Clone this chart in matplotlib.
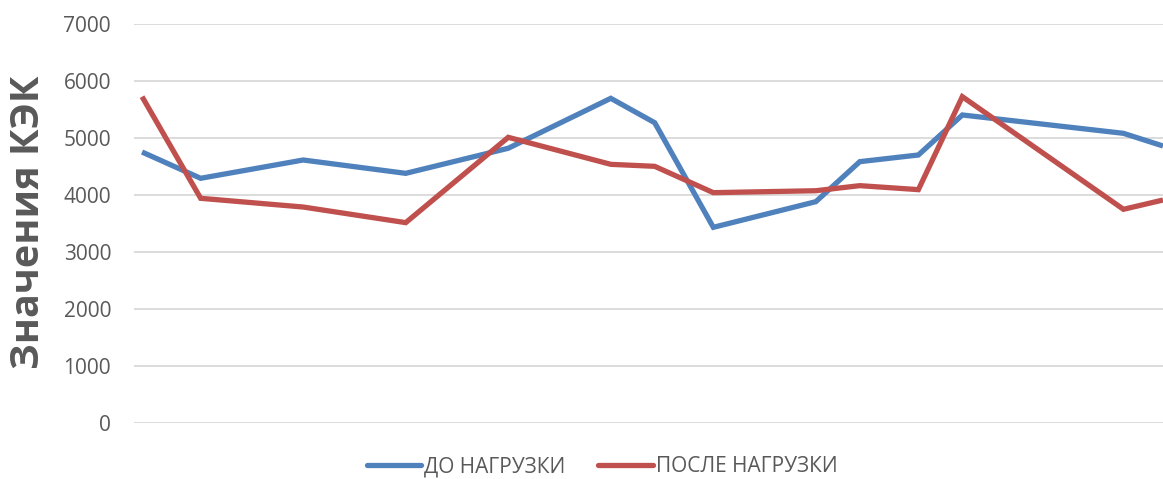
import matplotlib
matplotlib.use("Agg")
import matplotlib.pyplot as plt

# Measurement days (days since first measurement)
days = [0, 4, 11, 18, 25, 32, 35, 39, 46, 49, 53, 56, 67, 69.7]

# КЭК values before and after load
before_load = [4754, 4293, 4614, 4380, 4820, 5696, 5268, 3433, 3883, 4585, 4702, 5404, 5082, 4860]
after_load = [5725, 3942, 3789, 3515, 5012, 4538, 4503, 4041, 4075, 4164, 4094, 5725, 3749, 3912]

series_labels = ["ДО НАГРУЗКИ", "ПОСЛЕ НАГРУЗКИ"]
y_ticks = [0, 1000, 2000, 3000, 4000, 5000, 6000, 7000]
y_title = "Значения КЭК"

blue = "#4F81BD"
red = "#C0504D"
text_gray = "#595959"
grid_gray = "#D9D9D9"

plt.rcParams["font.family"] = ["Open Sans", "DejaVu Sans"]

fig = plt.figure(figsize=(11.63, 4.79), dpi=100)
W, H = 1163, 479
left, right, top, bottom = 134, 1163, 24, 423
ax = fig.add_axes([left / W, 1 - bottom / H, (right - left) / W, (bottom - top) / H])

ax.plot(days, before_load, color=blue, lw=3.8, solid_joinstyle="miter",
        solid_capstyle="butt", label=series_labels[0], zorder=3)
ax.plot(days, after_load, color=red, lw=3.8, solid_joinstyle="miter",
        solid_capstyle="butt", label=series_labels[1], zorder=3)

ax.set_ylim(0, 7000)
ax.set_xlim(-0.55, 69.7)
ax.set_yticks(y_ticks)
ax.set_yticklabels([str(v) for v in y_ticks])
ax.set_xticks([])
ax.tick_params(axis="y", length=0, pad=16.5, labelsize=15, labelcolor=text_gray)
ax.grid(axis="y", color=grid_gray, lw=1.3, zorder=0)
for s in ax.spines.values():
    s.set_visible(False)

fig.text(29 / W, 1 - 222 / H, y_title, rotation=90, ha="center", va="center",
         fontsize=28.5, fontweight="bold", color=text_gray)

leg = fig.legend(loc="center", bbox_to_anchor=(602 / W, 1 - 467 / H), ncol=2,
                 frameon=False, fontsize=15, handlelength=2.6,
                 handletextpad=0.15, columnspacing=1.6)
for t in leg.get_texts():
    t.set_color(text_gray)
for h in leg.get_lines():
    h.set_solid_capstyle("round")

fig.savefig("out.png", dpi=100)
